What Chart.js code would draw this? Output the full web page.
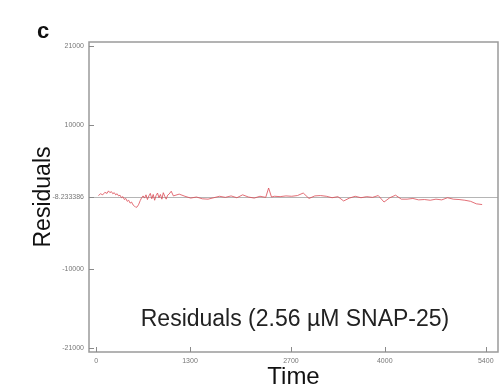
<!DOCTYPE html>
<html>
<head>
<meta charset="utf-8">
<script src="https://cdn.jsdelivr.net/npm/chart.js@4/dist/chart.umd.min.js"></script>
<style>
    html, body { margin: 0; padding: 0; background: #fff; }
    canvas { display: block; }
</style>
</head>
<body>
<canvas id="residuals-chart" width="501" height="388"></canvas>
<script>
// residual trace (time, residual)
const times = [30, 60, 90, 120, 150, 170, 190, 210, 230, 250, 270, 290, 310, 330, 350, 370, 390, 410,
    430, 450, 470, 490, 510, 530, 550, 570, 590, 610, 630, 650, 670, 690, 710, 730, 750, 770, 790,
    810, 830, 850, 870, 890, 910, 930, 950, 970, 990, 1010, 1040, 1070,
    1150, 1230, 1310, 1390, 1470, 1550, 1630, 1710, 1790, 1870, 1950, 2030, 2110, 2190, 2270, 2350,
    2390, 2430, 2470, 2550, 2630, 2710, 2790, 2870, 2950, 3030, 3110, 3190, 3270, 3350, 3430, 3510,
    3590, 3670, 3750, 3830, 3910, 3990, 4070, 4150, 4230, 4310, 4390, 4470, 4550, 4630, 4710, 4790,
    4870, 4950, 5030, 5110, 5190, 5270, 5350];
const residuals = [200, 450, 300, 650, 500, 850, 600, 750, 450, 600, 300, 450, 150, 250, -100, 50, -350, -200,
    -600, -450, -850, -700, -1100, -1250, -1450, -1350, -1000, -500, -100, 150, -150, 300, -350, 150, 500, -250, 350,
    -450, 200, 550, -100, 350, -300, 600, 100, -300, 250, 400, 800, 150,
    400, 100, -150, 0, -250, -300, -100, 100, -50, 150, -100, 300, 0, -150, 100, -50,
    1250, 0, 100, 50, 150, 100, 200, 550, -200, 150, 200, 100, -100, 50, -550, -150,
    100, -100, 50, -50, 200, -700, -100, 250, -300, -300, -200, -400, -350, -450, -300, -400,
    -100, -300, -350, -450, -600, -950, -1050];

const yTickValues = [21000, 10000, -8.233386, -10000, -21000];
const xTickValues = [0, 1300, 2700, 4000, 5400];
const zeroLine = -8.233386;

const points = times.map((t, i) => ({ x: t, y: residuals[i] }));

// frame, inside tick marks, panel letter and caption
const framePlugin = {
    id: 'frame',
    afterDraw(chart) {
        const ctx = chart.ctx;
        const area = chart.chartArea;
        const xs = chart.scales.x;
        const ys = chart.scales.y;
        ctx.save();
        ctx.strokeStyle = '#9a9a9a';
        ctx.lineWidth = 1.5;
        ctx.strokeRect(area.left, area.top, area.right - area.left, area.bottom - area.top);

        ctx.lineWidth = 1;
        ctx.strokeStyle = '#8a8a8a';
        ctx.beginPath();
        yTickValues.forEach(v => {
            const y = Math.round(ys.getPixelForValue(v)) + 0.5;
            ctx.moveTo(area.left, y);
            ctx.lineTo(area.left + 5, y);
        });
        xTickValues.forEach(v => {
            const x = Math.round(xs.getPixelForValue(v)) + 0.5;
            ctx.moveTo(x, area.bottom);
            ctx.lineTo(x, area.bottom - 5);
        });
        ctx.stroke();

        ctx.fillStyle = '#111';
        ctx.font = 'bold 22px "Liberation Sans", Arial, sans-serif';
        ctx.textAlign = 'left';
        ctx.textBaseline = 'alphabetic';
        ctx.fillText('c', 37, 38);

        ctx.fillStyle = '#222';
        ctx.font = '23px "Liberation Sans", Arial, sans-serif';
        ctx.textAlign = 'center';
        ctx.fillText('Residuals (2.56 µM SNAP-25)', 295, 326);
        ctx.restore();
    }
};

const ctx = document.getElementById('residuals-chart').getContext('2d');
new Chart(ctx, {
    type: 'line',
    data: {
        datasets: [{
            data: points,
            borderColor: 'rgba(220, 75, 85, 0.8)',
            borderWidth: 1,
            pointRadius: 0,
            tension: 0,
            fill: false
        }]
    },
    options: {
        responsive: false,
        animation: false,
        layout: { padding: { top: 42, right: 3, left: 0, bottom: 0 } },
        plugins: {
            legend: { display: false },
            tooltip: { enabled: false }
        },
        scales: {
            x: {
                type: 'linear',
                min: -100,
                max: 5570,
                afterBuildTicks: scale => { scale.ticks = xTickValues.map(v => ({ value: v })); },
                afterFit: scale => { scale.height = 36; },
                border: { display: false },
                grid: { display: false, drawTicks: false },
                ticks: {
                    padding: 5,
                    color: '#777',
                    font: { size: 7, family: '"Liberation Sans", Arial, sans-serif' },
                    maxRotation: 0,
                    callback: v => String(v)
                },
                title: {
                    display: true,
                    text: 'Time',
                    color: '#111',
                    font: { size: 24, family: '"Liberation Sans", Arial, sans-serif', lineHeight: 1 },
                    padding: { top: 0, bottom: -1 }
                }
            },
            y: {
                type: 'linear',
                min: -21550,
                max: 21550,
                afterBuildTicks: scale => { scale.ticks = yTickValues.map(v => ({ value: v })); },
                afterFit: scale => { scale.width = 89; },
                border: { display: false },
                grid: {
                    drawTicks: false,
                    color: c => (c.tick && c.tick.value === zeroLine) ? '#b5b5b5' : 'rgba(0,0,0,0)',
                    lineWidth: 1
                },
                ticks: {
                    padding: 5,
                    color: '#777',
                    font: { size: 7, family: '"Liberation Sans", Arial, sans-serif' },
                    callback: v => String(v)
                },
                title: {
                    display: true,
                    text: 'Residuals',
                    color: '#111',
                    font: { size: 23, family: '"Liberation Sans", Arial, sans-serif', lineHeight: 1 },
                    padding: { top: 32, bottom: 0 }
                }
            }
        }
    },
    plugins: [framePlugin]
});
</script>
</body>
</html>
